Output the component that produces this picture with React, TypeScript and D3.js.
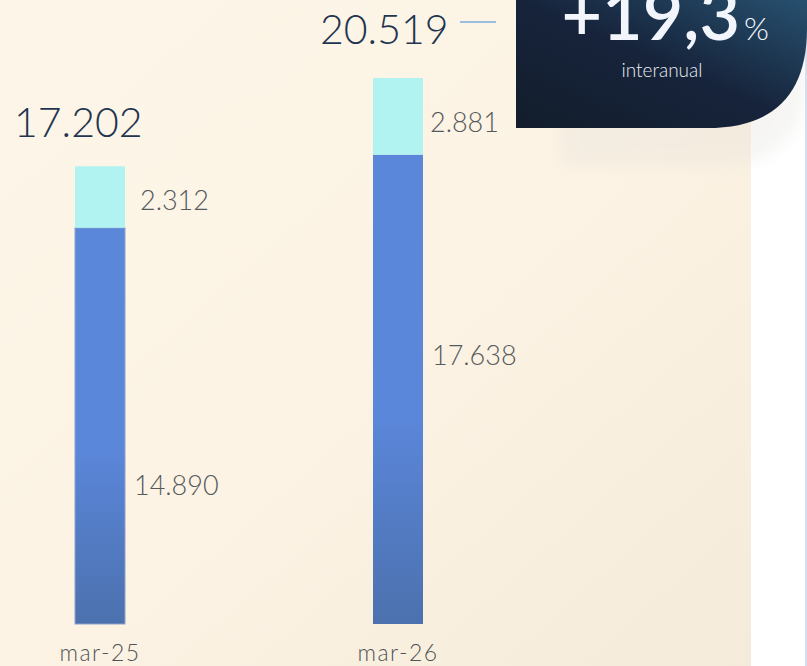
import React from "react";
import * as d3 from "d3";

const categories = ["mar-25", "mar-26"];
const baseValues = [14890, 17638];
const topValues = [2312, 2881];
const totals = [17202, 20519];
const totalLabels = ["17.202", "20.519"];
const baseLabels = ["14.890", "17.638"];
const topLabels = ["2.312", "2.881"];
const growthMain = "+19,3";
const growthUnit = "%";
const growthCaption = "interanual";

const W = 807;
const H = 666;

export default function App() {
  const x = d3.scalePoint<string>().domain(categories).range([100, 398]);
  const y = d3.scaleLinear().domain([0, 20519]).range([624, 78]);
  const bw = 50;
  const font = "'Lato Light', Lato, 'Open Sans', sans-serif";
  const baseLabelFrac = [0.35, 0.573];
  const topLabelDx = [15, 7];
  const topLabelDy = [13, 16];
  const totalLabelX = [14, 320];
  const totalLabelY = [137, 44];

  return (
    <svg width={W} height={H} style={{ position: "absolute", left: 0, top: 0 }}>
      <defs>
        <linearGradient id="bg" x1="0" y1="0" x2="1" y2="1">
          <stop offset="0" stopColor="#fdf6e8" />
          <stop offset="0.5" stopColor="#fcf3e4" />
          <stop offset="1" stopColor="#f5ebda" />
        </linearGradient>
        <linearGradient id="barG" x1="0" y1="0" x2="0" y2="1">
          <stop offset="0" stopColor="#5b87db" />
          <stop offset="0.55" stopColor="#5b87db" />
          <stop offset="1" stopColor="#4c71ae" />
        </linearGradient>
        <linearGradient id="badge" x1="0" y1="1" x2="1" y2="0">
          <stop offset="0" stopColor="#131d2c" />
          <stop offset="0.5" stopColor="#16233a" />
          <stop offset="1" stopColor="#27506f" />
        </linearGradient>
        <filter id="blur" x="-20%" y="-20%" width="140%" height="160%">
          <feGaussianBlur stdDeviation="8" />
        </filter>
      </defs>
      <rect x={0} y={0} width={W} height={H} fill="#ffffff" />
      <rect x={0} y={0} width={751} height={H} fill="url(#bg)" />
      <line x1={806} y1={0} x2={806} y2={H} stroke="#c6d6ee" strokeWidth={1.5} />

      <path d="M560,0 H807 V70 Q807,165 720,165 H560 Z" fill="#dcdad6" opacity={0.25} filter="url(#blur)" />
      <path d="M516,0 H807 V28 Q807,128 707,128 H516 Z" fill="url(#badge)" />
      <text x={740} y={40} textAnchor="end" fill="#f2f5fc" fontFamily="Lato, sans-serif" fontWeight={600} fontSize={70}>
        {growthMain}
      </text>
      <text x={744} y={40} fill="#f2f5fc" fontFamily={font} fontWeight={300} fontSize={32}>
        {growthUnit}
      </text>
      <text x={662} y={77} textAnchor="middle" fill="#e8ecf2" fontFamily={font} fontWeight={300} fontSize={19}>
        {growthCaption}
      </text>

      <line x1={460} y1={22} x2={496} y2={22} stroke="#79aee0" strokeWidth={1.5} />

      {categories.map((c, i) => {
        const x0 = x(c)! - bw / 2;
        const yBase = y(baseValues[i]);
        const yTop = y(totals[i]);
        return (
          <g key={c}>
            <rect x={x0} y={yBase} width={bw} height={y(0) - yBase} fill="url(#barG)" stroke={i === 0 ? "#8ea3c8" : "none"} strokeWidth={1} />
            <rect x={x0} y={yTop} width={bw} height={yBase - yTop} fill="#b0f3f1" />
            <text x={x0 + bw + topLabelDx[i]} y={(yTop + yBase) / 2 + topLabelDy[i]} fill="#555a5c" fontFamily={font} fontWeight={300} fontSize={27}>
              {topLabels[i]}
            </text>
            <text x={x0 + bw + 9} y={y(baseValues[i] * baseLabelFrac[i]) + 10} fill="#555a5c" fontFamily={font} fontWeight={300} fontSize={27}>
              {baseLabels[i]}
            </text>
            <text x={totalLabelX[i]} y={totalLabelY[i]} fill="#1f3550" fontFamily={font} fontWeight={300} fontSize={41}>
              {totalLabels[i]}
            </text>
            <text x={x0 + bw / 2} y={661} textAnchor="middle" fill="#505456" fontFamily={font} fontWeight={300} fontSize={23} letterSpacing={1.5}>
              {c}
            </text>
          </g>
        );
      })}
    </svg>
  );
}
